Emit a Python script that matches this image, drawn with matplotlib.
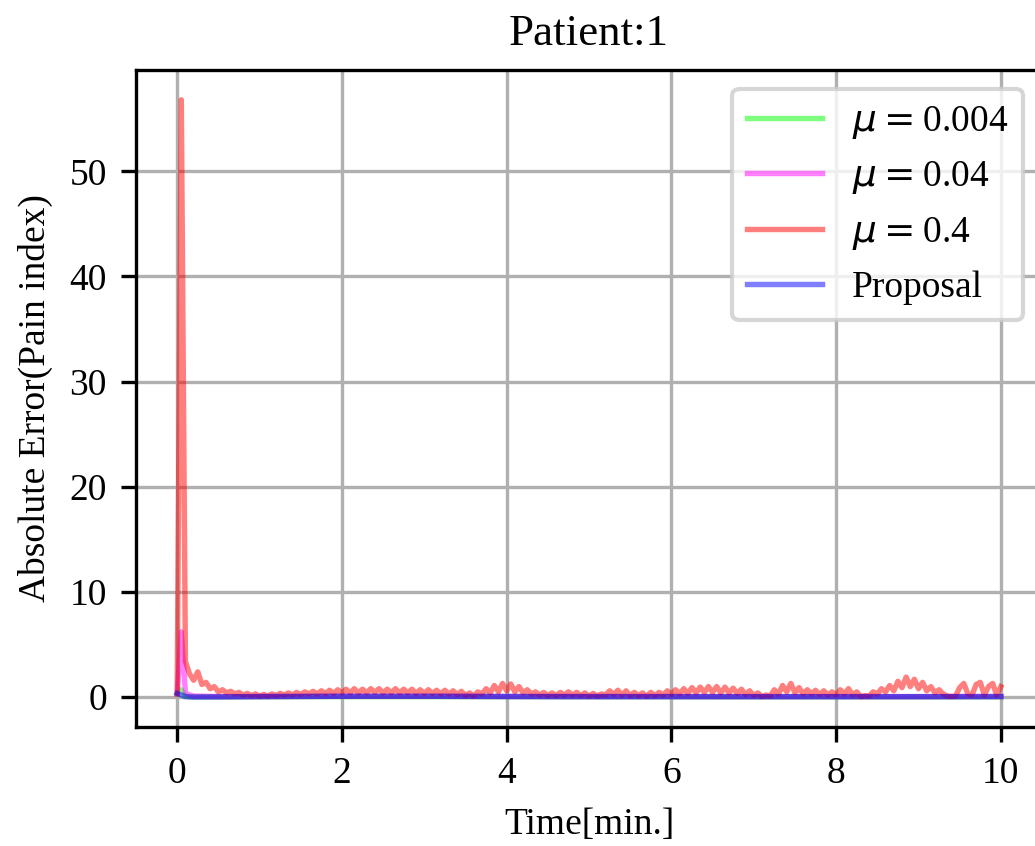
import numpy as np
import matplotlib
matplotlib.use("Agg")
import matplotlib.pyplot as plt

plt.rcParams['font.family'] = 'serif'
plt.rcParams['font.serif'] = ['Liberation Serif', 'Times New Roman', 'DejaVu Serif']
plt.rcParams['font.size'] = 9

# mu = 0.4 series, sampled every 0.05 min
t_red = np.round(np.arange(0, 10.001, 0.05), 2)
err_red = [
    0.3, 56.8, 3.4, 2.2, 1.6, 2.4, 1.2, 1.4, 0.8, 1.0, 0.5, 0.7, 0.4, 0.55, 0.3, 0.45, 0.2, 0.35, 0.15, 0.3,
    0.1, 0.25, 0.1, 0.3, 0.15, 0.35, 0.2, 0.4, 0.2, 0.45, 0.25, 0.5, 0.3, 0.55, 0.3, 0.6, 0.35, 0.65, 0.35, 0.7,
    0.4, 0.75, 0.4, 0.8, 0.4, 0.75, 0.4, 0.8, 0.45, 0.8, 0.4, 0.75, 0.4, 0.8, 0.4, 0.75, 0.4, 0.75, 0.35, 0.7,
    0.35, 0.7, 0.35, 0.65, 0.3, 0.65, 0.3, 0.6, 0.25, 0.55, 0.15, 0.4, 0.1, 0.5, 0.3, 0.8, 0.4, 1.1, 0.5, 1.3,
    0.6, 1.25, 0.5, 1.0, 0.4, 0.7, 0.3, 0.5, 0.2, 0.45, 0.15, 0.4, 0.15, 0.45, 0.2, 0.5, 0.2, 0.45, 0.15, 0.4,
    0.1, 0.35, 0.1, 0.3, 0.2, 0.6, 0.25, 0.65, 0.2, 0.6, 0.15, 0.45, 0.15, 0.4, 0.1, 0.45, 0.15, 0.45, 0.2, 0.6,
    0.25, 0.7, 0.3, 0.8, 0.35, 0.9, 0.4, 0.95, 0.45, 1.0, 0.45, 1.0, 0.4, 0.95, 0.4, 0.85, 0.35, 0.75, 0.25, 0.6,
    0.15, 0.4, 0.05, 0.2, 0.1, 0.7, 0.3, 1.1, 0.5, 1.3, 0.4, 0.9, 0.3, 0.7, 0.3, 0.65, 0.25, 0.6, 0.2, 0.5,
    0.2, 0.7, 0.3, 0.8, 0.2, 0.5, 0.05, 0.15, 0.1, 0.5, 0.3, 0.8, 0.5, 1.1, 0.6, 1.5, 0.9, 1.9, 1.0, 1.7,
    0.8, 1.4, 0.6, 1.0, 0.4, 0.7, 0.3, 0.1, 0.05, 0.1, 0.9, 1.3, 0.3, 0.2, 1.2, 1.4, 0.2, 1.0, 1.3, 0.2, 1.0,
]

# the other series stay close to zero after the start
t_low = [0, 0.05, 0.1, 0.15, 0.2, 0.5, 1, 2, 3, 4, 5, 6, 7, 8, 9, 10]
err_green = [0.3, 0.7, 0.1, 0.05, 0.03, 0.02, 0.03, 0.05, 0.05, 0.04, 0.03, 0.03, 0.03, 0.03, 0.03, 0.03]
err_magenta = [0.3, 6.2, 0.4, 0.2, 0.1, 0.05, 0.05, 0.08, 0.08, 0.06, 0.05, 0.05, 0.05, 0.05, 0.05, 0.06]
err_blue = [0.35, 0.2, 0.05, 0.02, 0.0, 0.02, 0.05, 0.08, 0.08, 0.06, 0.05, 0.05, 0.04, 0.04, 0.04, 0.05]

fig = plt.figure(figsize=(3.45, 2.82), dpi=300)
ax = fig.add_axes([0.1314, 0.1407, 0.8754, 0.7766])

ax.plot(t_low, err_green, color='lime', alpha=0.5, lw=1.3, label=r'$\mu=$0.004')
ax.plot(t_low, err_magenta, color='magenta', alpha=0.5, lw=1.3, label=r'$\mu=$0.04')
ax.plot(t_red, err_red, color='red', alpha=0.5, lw=1.3, label=r'$\mu=$0.4')
ax.plot(t_low, err_blue, color='blue', alpha=0.5, lw=1.3, label='Proposal')

ax.set_title('Patient:1', fontsize='large')
ax.set_xlabel('Time[min.]')
ax.set_ylabel('Absolute Error(Pain index)')
ax.grid(True)
ax.legend(loc='upper right')

fig.savefig('out.png', dpi=300)
